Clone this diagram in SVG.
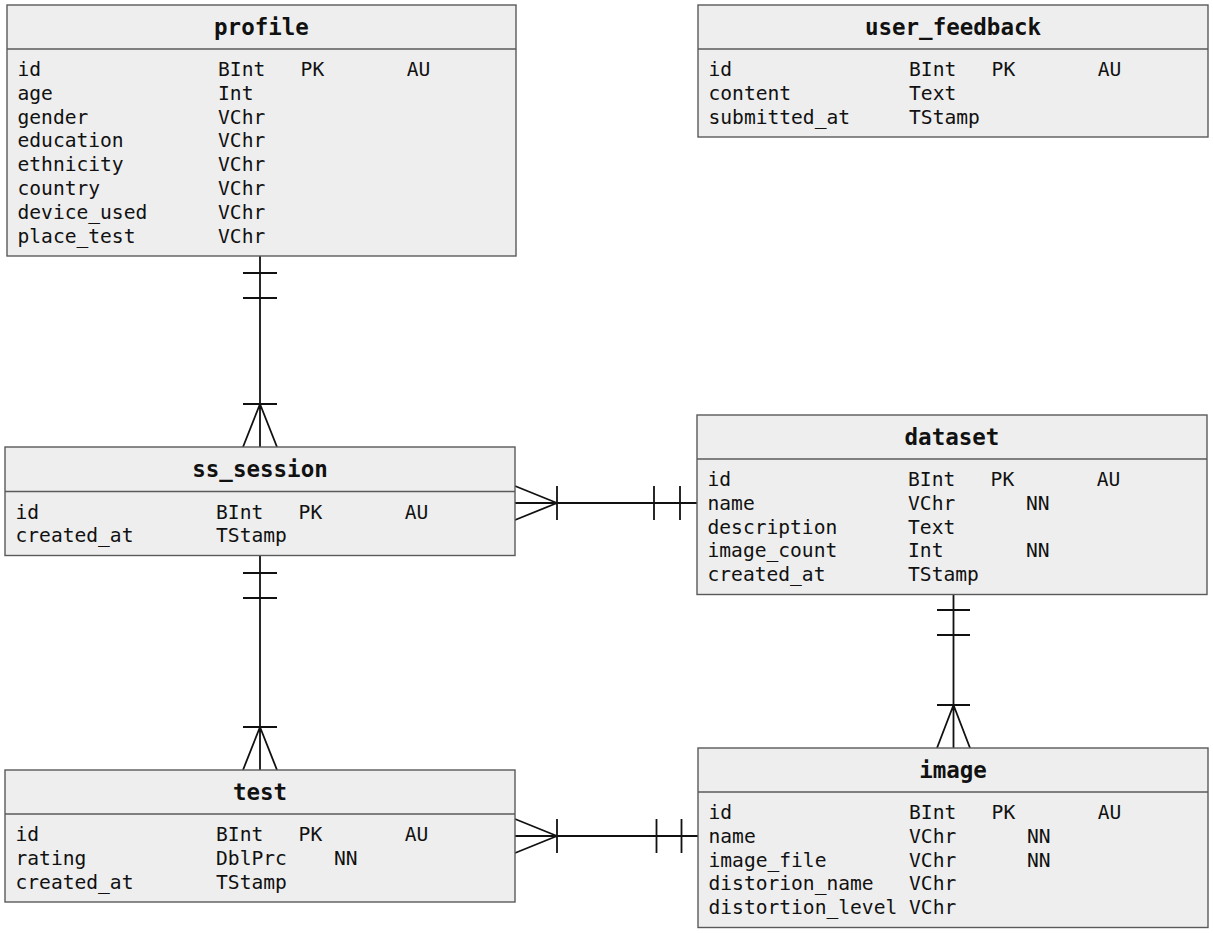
<svg xmlns="http://www.w3.org/2000/svg" width="1213" height="933" viewBox="0 0 1213 933">
<style>
.box{fill:#eeeeee;stroke:#5a5a5a;stroke-width:1.4}
.div{stroke:#5a5a5a;stroke-width:1.4}
.title{font-family:"DejaVu Sans Mono","Liberation Mono",monospace;font-weight:bold;font-size:22.5px;fill:#111;text-anchor:middle}
.row{font-family:"DejaVu Sans Mono","Liberation Mono",monospace;font-size:19.6px;fill:#111;white-space:pre}
.cn{stroke:#111;stroke-width:1.8;fill:none}
</style>
<rect width="1213" height="933" fill="#ffffff"/>
<g id="connectors">
  <path class="cn" d="M260,256 V447 M243,273 H277 M243,298 H277 M243,404 H277 M260,404 L243,447 M260,404 L277,447"/>
  <path class="cn" d="M260,555.5 V770 M243,573 H277 M243,598 H277 M243,727 H277 M260,727 L243,770 M260,727 L277,770"/>
  <path class="cn" d="M515,503 H697 M557,486 V520 M557,503 L515,486 M557,503 L515,520 M654,486 V520 M680,486 V520"/>
  <path class="cn" d="M515,836 H698 M557,819 V853 M557,836 L515,819 M557,836 L515,853 M656.5,819 V853 M681.5,819 V853"/>
  <path class="cn" d="M953.5,594.5 V748 M937,610 H970 M937,635 H970 M937,705 H970 M953.5,705 L937,748 M953.5,705 L970,748"/>
</g>
<g id="profile">
  <rect class="box" x="7" y="5" width="509" height="251"/>
  <line class="div" x1="7" y1="49" x2="516" y2="49"/>
  <text class="title" x="261.5" y="34.5">profile</text>
  <text class="row" x="17.5" y="76">id               BInt   PK       AU</text>
  <text class="row" x="17.5" y="99.8">age              Int</text>
  <text class="row" x="17.5" y="123.6">gender           VChr</text>
  <text class="row" x="17.5" y="147.4">education        VChr</text>
  <text class="row" x="17.5" y="171.2">ethnicity        VChr</text>
  <text class="row" x="17.5" y="195">country          VChr</text>
  <text class="row" x="17.5" y="218.8">device_used      VChr</text>
  <text class="row" x="17.5" y="242.6">place_test       VChr</text>
</g>
<g id="user_feedback">
  <rect class="box" x="698" y="5" width="510" height="132"/>
  <line class="div" x1="698" y1="49" x2="1208" y2="49"/>
  <text class="title" x="953" y="34.5">user_feedback</text>
  <text class="row" x="708.5" y="76">id               BInt   PK       AU</text>
  <text class="row" x="708.5" y="99.8">content          Text</text>
  <text class="row" x="708.5" y="123.6">submitted_at     TStamp</text>
</g>
<g id="ss_session">
  <rect class="box" x="5" y="447" width="510" height="108.5"/>
  <line class="div" x1="5" y1="491.5" x2="515" y2="491.5"/>
  <text class="title" x="260" y="477">ss_session</text>
  <text class="row" x="15.5" y="518.5">id               BInt   PK       AU</text>
  <text class="row" x="15.5" y="542.3">created_at       TStamp</text>
</g>
<g id="dataset">
  <rect class="box" x="697" y="415" width="510" height="179.5"/>
  <line class="div" x1="697" y1="459" x2="1207" y2="459"/>
  <text class="title" x="952" y="444.5">dataset</text>
  <text class="row" x="707.5" y="486">id               BInt   PK       AU</text>
  <text class="row" x="707.5" y="509.8">name             VChr      NN</text>
  <text class="row" x="707.5" y="533.6">description      Text</text>
  <text class="row" x="707.5" y="557.4">image_count      Int       NN</text>
  <text class="row" x="707.5" y="581.2">created_at       TStamp</text>
</g>
<g id="test">
  <rect class="box" x="5" y="770" width="510" height="132"/>
  <line class="div" x1="5" y1="814" x2="515" y2="814"/>
  <text class="title" x="260" y="799.5">test</text>
  <text class="row" x="15.5" y="841">id               BInt   PK       AU</text>
  <text class="row" x="15.5" y="864.8">rating           DblPrc    NN</text>
  <text class="row" x="15.5" y="888.6">created_at       TStamp</text>
</g>
<g id="image">
  <rect class="box" x="698" y="748" width="510" height="179.5"/>
  <line class="div" x1="698" y1="792" x2="1208" y2="792"/>
  <text class="title" x="953" y="777.5">image</text>
  <text class="row" x="708.5" y="819">id               BInt   PK       AU</text>
  <text class="row" x="708.5" y="842.8">name             VChr      NN</text>
  <text class="row" x="708.5" y="866.6">image_file       VChr      NN</text>
  <text class="row" x="708.5" y="890.4">distorion_name   VChr</text>
  <text class="row" x="708.5" y="914.2">distortion_level VChr</text>
</g>
</svg>
